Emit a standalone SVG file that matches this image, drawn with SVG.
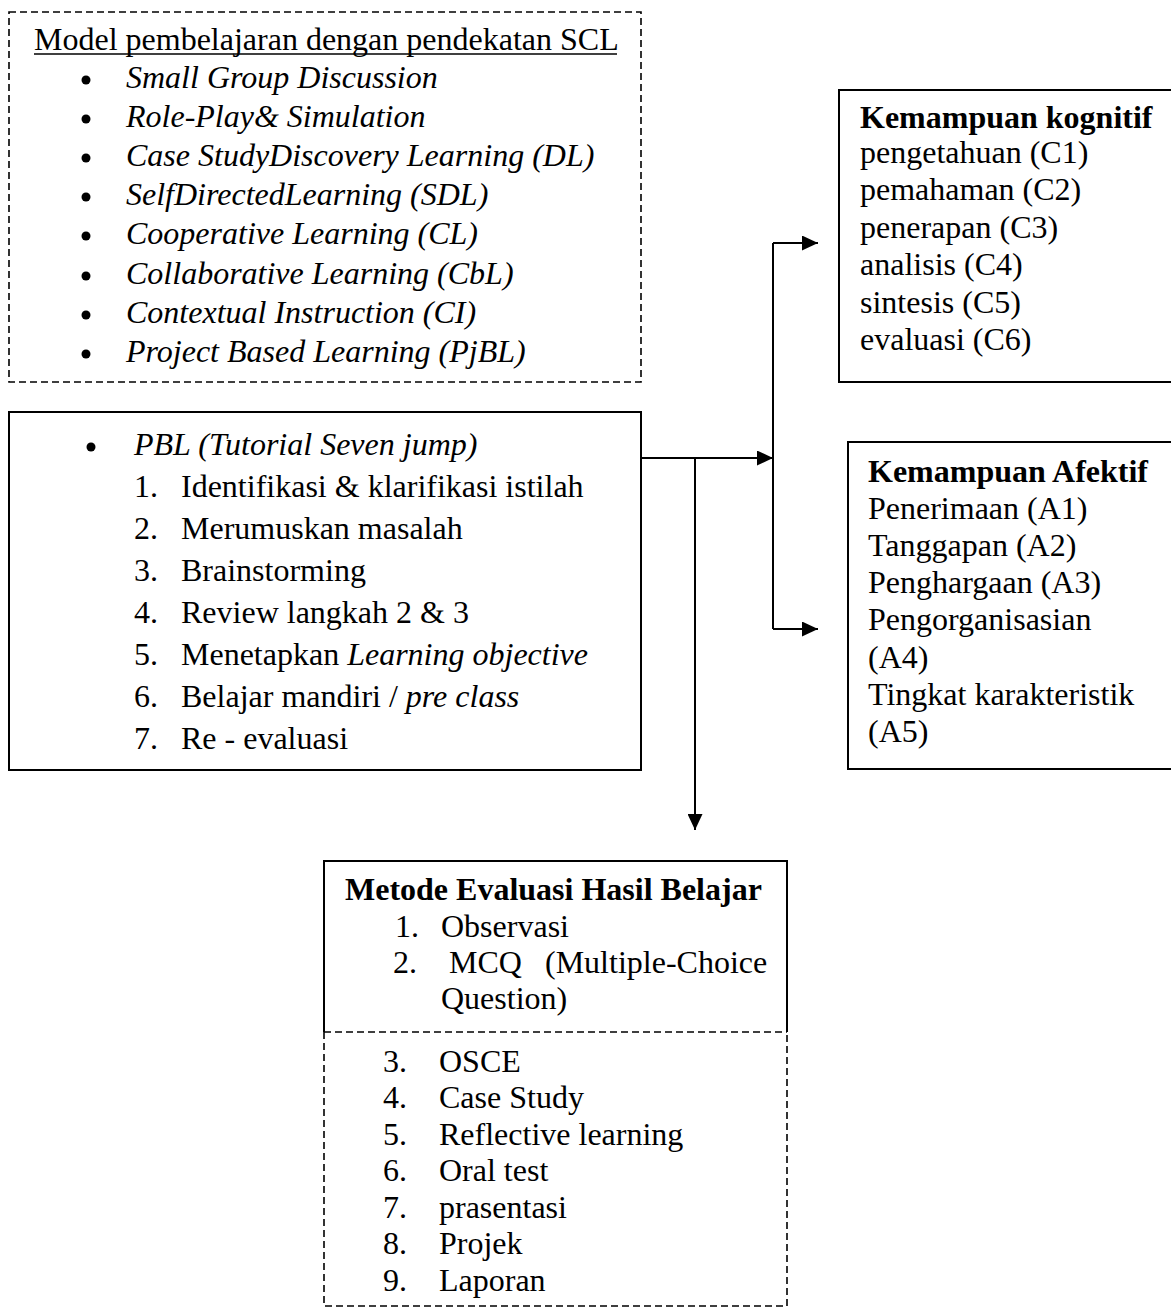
<svg xmlns="http://www.w3.org/2000/svg" width="1171" height="1308" viewBox="0 0 1171 1308">
<style>
text{font-family:"Liberation Serif","Times New Roman",serif;font-size:32px;fill:#000}
.i{font-style:italic}
.b{font-weight:bold}
.bul{fill:#000}
.box{fill:none;stroke:#000;stroke-width:2}
.dash{fill:none;stroke:#000;stroke-width:1.6;stroke-dasharray:7 4}
.conn{fill:none;stroke:#000;stroke-width:2}
</style>
<defs>
<marker id="arr" viewBox="0 0 16 15" refX="16" refY="7.5" markerWidth="16" markerHeight="15" markerUnits="userSpaceOnUse" orient="auto">
<path d="M0,0 L16,7.5 L0,15 z" fill="#000"/>
</marker>
</defs>
<rect width="1171" height="1308" fill="#fff"/>

<g id="scl-models">
<rect class="dash" x="9" y="12" width="632" height="370"/>
<text x="34" y="50">Model pembelajaran dengan pendekatan SCL</text>
<line x1="34" y1="54" x2="617" y2="54" stroke="#000" stroke-width="1.6"/>
<circle class="bul" cx="86" cy="80" r="4.5"/><text class="i" x="126" y="88">Small Group Discussion</text>
<circle class="bul" cx="86" cy="119" r="4.5"/><text class="i" x="126" y="127">Role-Play&amp; Simulation</text>
<circle class="bul" cx="86" cy="158" r="4.5"/><text class="i" x="126" y="166">Case StudyDiscovery Learning (DL)</text>
<circle class="bul" cx="86" cy="197" r="4.5"/><text class="i" x="126" y="205">SelfDirectedLearning (SDL)</text>
<circle class="bul" cx="86" cy="236" r="4.5"/><text class="i" x="126" y="244">Cooperative Learning (CL)</text>
<circle class="bul" cx="86" cy="276" r="4.5"/><text class="i" x="126" y="284">Collaborative Learning (CbL)</text>
<circle class="bul" cx="86" cy="315" r="4.5"/><text class="i" x="126" y="323">Contextual Instruction (CI)</text>
<circle class="bul" cx="86" cy="354" r="4.5"/><text class="i" x="126" y="362">Project Based Learning (PjBL)</text>
</g>

<g id="pbl">
<rect class="box" x="9" y="412" width="632" height="358"/>
<circle class="bul" cx="91" cy="447" r="4.5"/><text class="i" x="134" y="455">PBL (Tutorial Seven jump)</text>
<text x="134" y="497">1.</text><text x="181" y="497">Identifikasi &amp; klarifikasi istilah</text>
<text x="134" y="539">2.</text><text x="181" y="539">Merumuskan masalah</text>
<text x="134" y="581">3.</text><text x="181" y="581">Brainstorming</text>
<text x="134" y="623">4.</text><text x="181" y="623">Review langkah 2 &amp; 3</text>
<text x="134" y="665">5.</text><text x="181" y="665">Menetapkan <tspan class="i">Learning objective</tspan></text>
<text x="134" y="707">6.</text><text x="181" y="707">Belajar mandiri / <tspan class="i">pre class</tspan></text>
<text x="134" y="749">7.</text><text x="181" y="749">Re - evaluasi</text>
</g>

<g id="kognitif">
<rect class="box" x="839" y="90" width="340" height="292"/>
<text class="b" x="860" y="128">Kemampuan kognitif</text>
<text x="860" y="163">pengetahuan (C1)</text>
<text x="860" y="200">pemahaman (C2)</text>
<text x="860" y="238">penerapan (C3)</text>
<text x="860" y="275">analisis (C4)</text>
<text x="860" y="313">sintesis (C5)</text>
<text x="860" y="350">evaluasi (C6)</text>
</g>

<g id="afektif">
<rect class="box" x="848" y="442" width="330" height="327"/>
<text class="b" x="868" y="482">Kemampuan Afektif</text>
<text x="868" y="519">Penerimaan (A1)</text>
<text x="868" y="556">Tanggapan (A2)</text>
<text x="868" y="593">Penghargaan (A3)</text>
<text x="868" y="630">Pengorganisasian</text>
<text x="868" y="668">(A4)</text>
<text x="868" y="705">Tingkat karakteristik</text>
<text x="868" y="742">(A5)</text>
</g>

<g id="evaluasi">
<path class="box" d="M324,1032 V861 H787 V1032"/>
<path class="dash" d="M324,1032 H787 M324,1032 V1306 H787 V1032"/>
<text class="b" x="345" y="900">Metode Evaluasi Hasil Belajar</text>
<text x="395" y="937">1.</text><text x="441" y="937">Observasi</text>
<text x="393" y="973">2.</text><text x="449" y="973">MCQ</text><text x="545" y="973">(Multiple-Choice</text>
<text x="441" y="1009">Question)</text>
<text x="383" y="1072">3.</text><text x="439" y="1072">OSCE</text>
<text x="383" y="1108">4.</text><text x="439" y="1108">Case Study</text>
<text x="383" y="1145">5.</text><text x="439" y="1145">Reflective learning</text>
<text x="383" y="1181">6.</text><text x="439" y="1181">Oral test</text>
<text x="383" y="1218">7.</text><text x="439" y="1218">prasentasi</text>
<text x="383" y="1254">8.</text><text x="439" y="1254">Projek</text>
<text x="383" y="1291">9.</text><text x="439" y="1291">Laporan</text>
</g>

<g id="connectors">
<path class="conn" d="M641,458 H773" marker-end="url(#arr)"/>
<path class="conn" d="M773,243 V629"/>
<path class="conn" d="M773,243 H818" marker-end="url(#arr)"/>
<path class="conn" d="M773,629 H818" marker-end="url(#arr)"/>
<path class="conn" d="M695,458 V830" marker-end="url(#arr)"/>
</g>
</svg>
